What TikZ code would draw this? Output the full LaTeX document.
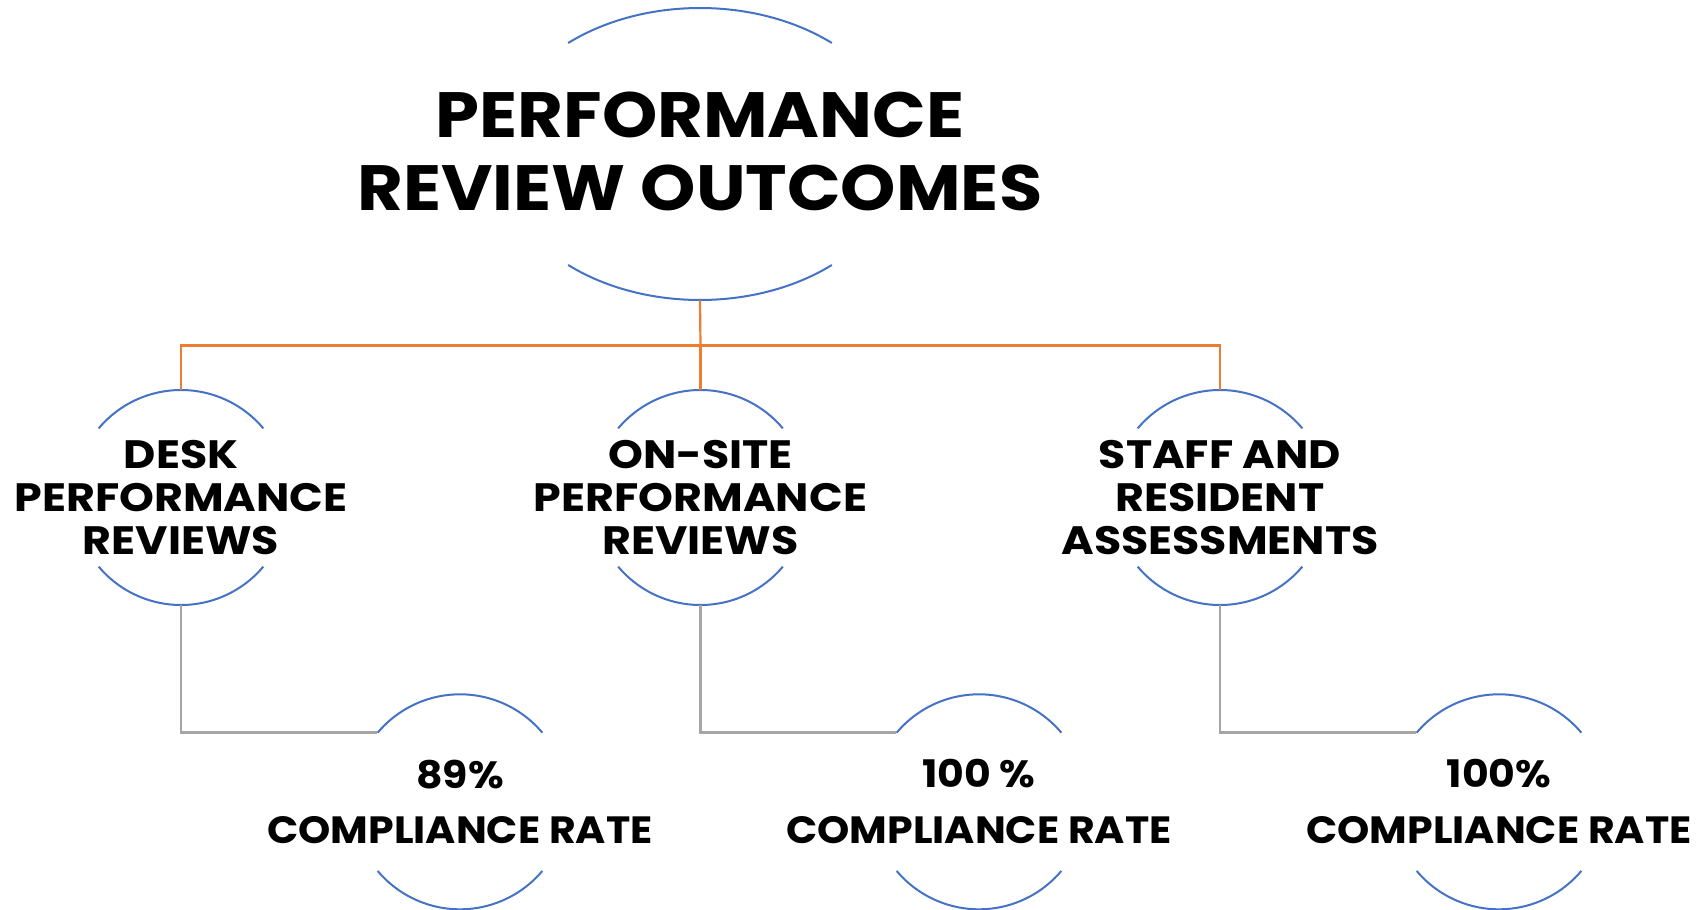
\documentclass[tikz,border=0pt]{standalone}
\usepackage{fontspec}
\setmainfont{Poppins}
\newfontfamily\headfont[FakeStretch=1.10]{Poppins}
\newfontfamily\unitfont[FakeStretch=1.12]{Poppins}
\newfontfamily\ratefont[FakeStretch=1.08]{Poppins}
\usetikzlibrary{shapes.geometric}
\definecolor{arcblue}{HTML}{4472C4}
\definecolor{linkorange}{HTML}{ED7D31}
\definecolor{linkgray}{HTML}{A5A5A5}
\begin{document}
\begin{tikzpicture}[x=0.5pt,y=-0.5pt,
  ring/.style={draw=arcblue,line width=1pt},
  hub/.style={circle,minimum size=107.5pt,inner sep=0pt},
  headtext/.style={align=center,inner sep=0pt,font=\headfont\fontsize{32}{36.25}\selectfont\bfseries},
  unittext/.style={align=center,inner sep=0pt,font=\unitfont\fontsize{19.8}{21.5}\selectfont\bfseries},
  ratetext/.style={align=center,inner sep=0pt,font=\ratefont\fontsize{19}{27.85}\selectfont\bfseries},
  treelink/.style={draw=linkorange,line width=1.1pt},
  ratelink/.style={draw=linkgray,line width=1.1pt}]
\useasboundingbox (0,0) rectangle (1698,910);

% title
\node[ellipse,minimum width=203pt,minimum height=146pt,inner sep=0pt] (top) at (700,154) {};
\node[headtext] (title) at (700,151.4) {PERFORMANCE\\REVIEW OUTCOMES};
\draw[ring] (top.center) ++(49.5:101.5pt and 73pt) arc[start angle=49.5,end angle=130.5,x radius=101.5pt,y radius=73pt];
\draw[ring] (top.center) ++(229.5:101.5pt and 73pt) arc[start angle=229.5,end angle=310.5,x radius=101.5pt,y radius=73pt];

% review types
\node[hub] (c1) at (181,497.5) {};
\node[hub] (c2) at (700.5,497.5) {};
\node[hub] (c3) at (1220,497.5) {};
\node[unittext] (t1) at (c1) {DESK\\PERFORMANCE\\REVIEWS};
\node[unittext] (t2) at (c2) {ON-SITE\\PERFORMANCE\\REVIEWS};
\node[unittext] (t3) at (c3) {STAFF AND\\RESIDENT\\ASSESSMENTS};

% compliance results
\node[hub] (r1) at (460,801.8) {};
\node[hub] (r2) at (979,801.8) {};
\node[hub] (r3) at (1499,801.8) {};
\node[ratetext] (s1) at (r1) {89\%\\COMPLIANCE RATE};
\node[ratetext] (s2) at (r2) {100 \%\\COMPLIANCE RATE};
\node[ratetext] (s3) at (r3) {100\%\\COMPLIANCE RATE};

\foreach \n in {c1,c2,c3,r1,r2,r3}{
  \draw[ring] (\n.center) ++(40:53.75pt) arc[start angle=40,end angle=140,radius=53.75pt];
  \draw[ring] (\n.center) ++(220:53.75pt) arc[start angle=220,end angle=320,radius=53.75pt];
}

% connectors
\coordinate (split) at (700.5,345.5);
\draw[treelink] (top.south) -- (split);
\draw[treelink] (split) -| (c1.north);
\draw[treelink] (split) -| (c3.north);
\draw[treelink] (split) -- (c2.north);
\draw[ratelink] (c1.south) |- (r1.140);
\draw[ratelink] (c2.south) |- (r2.140);
\draw[ratelink] (c3.south) |- (r3.140);
\end{tikzpicture}
\end{document}
